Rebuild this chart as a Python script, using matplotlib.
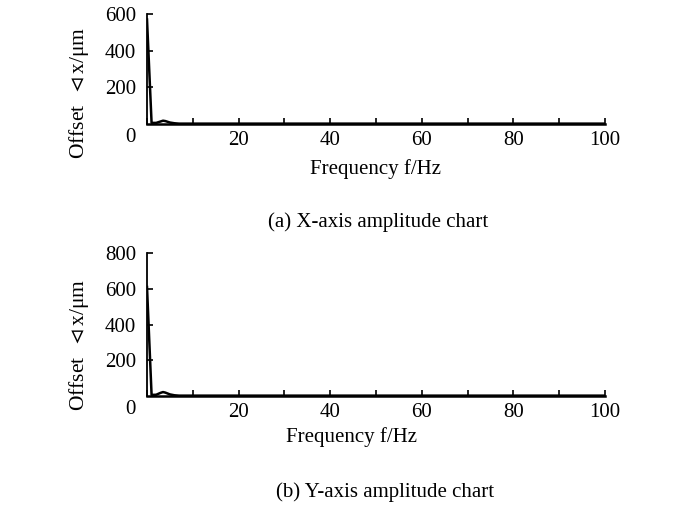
import matplotlib
matplotlib.use("Agg")
import matplotlib.pyplot as plt

plt.rcParams['font.family'] = ['Liberation Serif', 'DejaVu Serif', 'DejaVu Sans']
plt.rcParams['mathtext.fontset'] = 'stix'

# Data
freq = [0, 1, 2, 3, 3.5, 4, 5, 6, 7, 8, 10, 20, 30, 40, 50, 60, 70, 80, 90, 100]
x_amp = [570, 6, 6, 14, 18, 16, 8, 4, 2, 2, 2, 2, 2, 2, 2, 2, 2, 2, 2, 2]
y_amp = [610, 6, 7, 18, 22, 19, 9, 4, 2, 2, 2, 2, 2, 2, 2, 2, 2, 2, 2, 2]

x_ticks = [0, 20, 40, 60, 80, 100]
x_minor = [10, 30, 50, 70, 90]
top_yticks = [200, 400, 600]
bot_yticks = [200, 400, 600, 800]

ylabel = "Offset  $\\vartriangleleft$x/\u03bcm"
xlabel = "Frequency f/Hz"
titles = ["(a) X-axis amplitude chart", "(b) Y-axis amplitude chart"]

W, H = 700, 531
fig = plt.figure(figsize=(7.0, 5.31), dpi=100)

def fx(px):
    return px / W

def fy(py):
    return 1 - py / H

ax1 = fig.add_axes([fx(147), fy(124), fx(605) - fx(147), fy(14) - fy(124)])
ax2 = fig.add_axes([fx(147), fy(396), fx(605) - fx(147), fy(253) - fy(396)])

for ax, amp, yticks, ymax in [(ax1, x_amp, top_yticks, 600), (ax2, y_amp, bot_yticks, 800)]:
    ax.plot(freq, amp, color='black', lw=1.8, solid_joinstyle='round')
    ax.set_xlim(0, 100)
    ax.set_ylim(0, ymax)
    ax.spines['top'].set_visible(False)
    ax.spines['right'].set_visible(False)
    ax.spines['left'].set_linewidth(1.3)
    ax.spines['bottom'].set_linewidth(1.8)
    ax.set_xticks(x_ticks)
    ax.set_xticklabels(['' if t == 0 else str(t) for t in x_ticks])
    ax.set_xticks(x_minor, minor=True)
    ax.set_yticks(yticks)
    ax.set_yticklabels([str(t) for t in yticks])
    ax.tick_params(axis='both', which='both', direction='in', length=4, width=1.2,
                   labelsize=15)
    ax.tick_params(axis='x', pad=5)
    ax.tick_params(axis='y', pad=8)
    ax.annotate('0', xy=(0, 0), xycoords='axes fraction', xytext=(-12, -10),
                textcoords='offset points', ha='center', va='center', fontsize=15)
    ax.patch.set_alpha(0)

fig.text(fx(79), fy(93), ylabel, rotation=90, ha='center', va='center', fontsize=15.5)
fig.text(fx(79), fy(345), ylabel, rotation=90, ha='center', va='center', fontsize=15.5)
fig.text(fx(375), fy(169), xlabel, ha='center', va='center', fontsize=15)
fig.text(fx(352), fy(437), xlabel, ha='center', va='center', fontsize=15)
fig.text(fx(378), fy(222), titles[0], ha='center', va='center', fontsize=15)
fig.text(fx(385), fy(492), titles[1], ha='center', va='center', fontsize=15)

fig.savefig("out.png", dpi=100)
